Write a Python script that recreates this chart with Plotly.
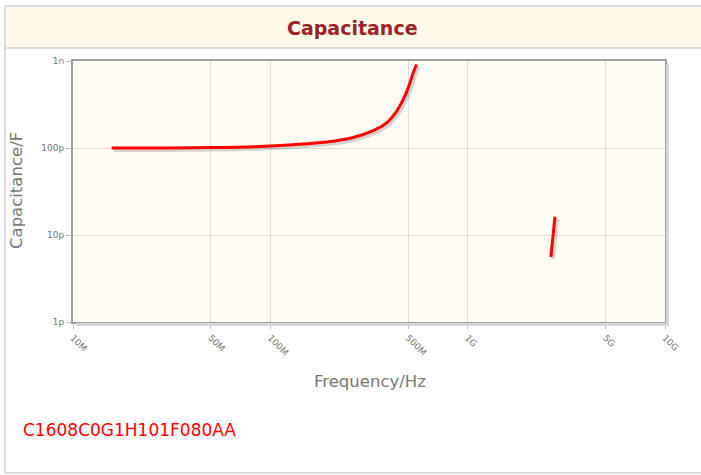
import plotly.graph_objects as go

# ---- data ----
freq_main_mhz = [15.7, 30, 50, 88.5, 130.6, 193, 263, 332, 388, 436, 471, 500, 526, 551]
cap_main_pf = [100, 100.2, 101, 104, 109, 117, 132, 158, 194, 264, 360, 491, 699, 912]
freq_hi_mhz = [2640, 2770]
cap_hi_pf = [5.6, 16.2]

x_tickvals = [1e7, 5e7, 1e8, 5e8, 1e9, 5e9, 1e10]
x_ticktext = ["10M", "50M", "100M", "500M", "1G", "5G", "10G"]
y_tickvals = [1e-12, 1e-11, 1e-10, 1e-9]
y_ticktext = ["1p", "10p", "100p", "1n"]
part_number = "C1608C0G1H101F080AA"

xs = [f * 1e6 for f in freq_main_mhz] + [None] + [f * 1e6 for f in freq_hi_mhz]
ys = [c * 1e-12 for c in cap_main_pf] + [None] + [c * 1e-12 for c in cap_hi_pf]

W, H = 701, 475
L, R, T, B = 73, 36, 61, 153
PW, PH = W - L - R, H - T - B
XR = [7, 10]
YR = [-12, -9]

def px(x):
    return (x - L) / PW

def py(y):
    return (H - B - y) / PH

# shadow offset (in pixels) converted to axis units
dx = 2 * (XR[1] - XR[0]) / PW
dy = 2 * (YR[1] - YR[0]) / PH

fig = go.Figure()
# invisible trace to activate the base subplot (grid, ticks, frame)
fig.add_trace(go.Scatter(x=xs, y=ys, mode="lines", line=dict(width=0, color="rgba(0,0,0,0)"),
                         hoverinfo="skip", showlegend=False))
fig.add_trace(go.Scatter(x=xs, y=ys, xaxis="x2", yaxis="y2", mode="lines",
                         line=dict(color="rgba(0,0,0,0.16)", width=4, shape="spline"),
                         hoverinfo="skip", showlegend=False))
fig.add_trace(go.Scatter(x=xs, y=ys, xaxis="x3", yaxis="y3", mode="lines",
                         line=dict(color="#ff0000", width=3, shape="spline"),
                         showlegend=False))

axis_common = dict(type="log", showgrid=False, zeroline=False, visible=False)
fig.update_layout(
    width=W, height=H,
    margin=dict(l=L, r=R, t=T, b=B),
    paper_bgcolor="white",
    plot_bgcolor="#fffcf3",
    showlegend=False,
    font=dict(family="DejaVu Sans", color="#666"),
    xaxis=dict(type="log", range=XR, tickvals=x_tickvals, ticktext=x_ticktext,
               tickangle=45, tickfont=dict(size=9, color="#777"),
               showgrid=True, gridcolor="#dcdcdc", gridwidth=1,
               showline=True, linecolor="#a0a0a0", linewidth=2, mirror=True,
               ticks="outside", ticklen=5, tickcolor="#bbb", zeroline=False),
    yaxis=dict(type="log", range=YR, tickvals=y_tickvals, ticktext=y_ticktext,
               tickfont=dict(size=9, color="#777"),
               showgrid=True, gridcolor="#dcdcdc", gridwidth=1,
               showline=True, linecolor="#a0a0a0", linewidth=2, mirror=True,
               ticks="outside", ticklen=5, tickcolor="#bbb", zeroline=False),
    xaxis2=dict(axis_common, overlaying="x", range=[XR[0] - dx, XR[1] - dx]),
    yaxis2=dict(axis_common, overlaying="y", range=[YR[0] + dy, YR[1] + dy]),
    xaxis3=dict(axis_common, overlaying="x", range=XR),
    yaxis3=dict(axis_common, overlaying="y", range=YR),
)

shapes = [
    # header band
    dict(type="rect", xref="paper", yref="paper", x0=px(5), x1=px(705), y0=py(48), y1=py(6),
         fillcolor="#fff9ea", line=dict(width=0), layer="below"),
    # frame lines
    dict(type="line", xref="paper", yref="paper", x0=px(5), x1=px(705), y0=py(6), y1=py(6),
         line=dict(color="#d0d0d0", width=1.5)),
    dict(type="line", xref="paper", yref="paper", x0=px(5), x1=px(705), y0=py(48), y1=py(48),
         line=dict(color="#d0d0d0", width=1.5)),
    dict(type="line", xref="paper", yref="paper", x0=px(5), x1=px(5), y0=py(6), y1=py(473),
         line=dict(color="#d0d0d0", width=1.5)),
    dict(type="line", xref="paper", yref="paper", x0=px(5), x1=px(705), y0=py(473), y1=py(473),
         line=dict(color="#d0d0d0", width=1.5)),
    # plot border shadow
    dict(type="line", xref="paper", yref="paper", x0=px(667.5), x1=px(667.5), y0=py(64), y1=py(325),
         line=dict(color="#d6d6d6", width=3)),
    dict(type="line", xref="paper", yref="paper", x0=px(76), x1=px(669), y0=py(324.5), y1=py(324.5),
         line=dict(color="#d6d6d6", width=3)),
]
fig.update_layout(shapes=shapes)

annotations = [
    dict(text="<b>Capacitance</b>", x=px(352), y=py(28), xref="paper", yref="paper",
         showarrow=False, xanchor="center", yanchor="middle",
         font=dict(family="DejaVu Sans", size=19, color="#9b2323")),
    dict(text="Frequency/Hz", x=px(370), y=py(381), xref="paper", yref="paper",
         showarrow=False, xanchor="center", yanchor="middle",
         font=dict(family="DejaVu Sans", size=16.5, color="#777")),
    dict(text="Capacitance/F", x=px(16), y=py(191), xref="paper", yref="paper",
         showarrow=False, xanchor="center", yanchor="middle", textangle=-90,
         font=dict(family="DejaVu Sans", size=16.5, color="#777")),
    dict(text=part_number, x=px(21), y=py(430), xref="paper", yref="paper",
         showarrow=False, xanchor="left", yanchor="middle",
         font=dict(family="DejaVu Sans", size=17, color="#ff0000")),
]
fig.update_layout(annotations=annotations)

fig.write_html("out.html", config={"displayModeBar": False},
               post_script="document.body.style.margin='0px';")
